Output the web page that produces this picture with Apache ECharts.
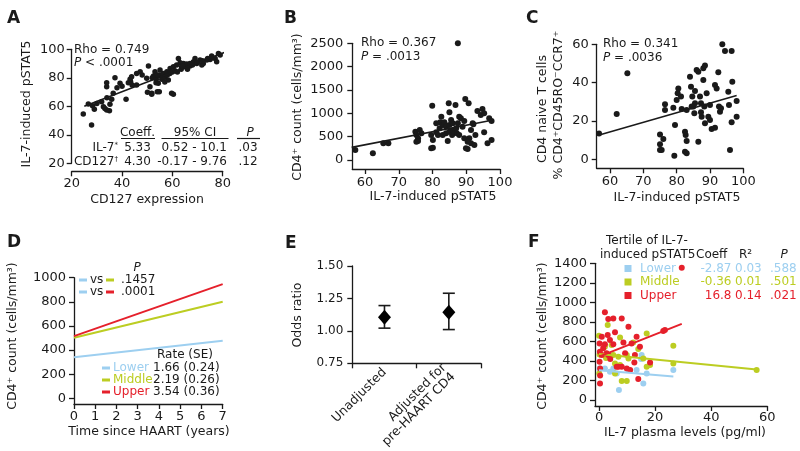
<!DOCTYPE html>
<html><head><meta charset="utf-8">
<script src="https://cdn.jsdelivr.net/npm/echarts@6/dist/echarts.min.js"></script>
<style>html,body{margin:0;padding:0;background:#fff}#c{width:800px;height:451px}</style>
</head><body><div id="c"></div>
<script>
// ---------------- DATA ----------------
const aPoints = [[24.6,54.6],[27.9,46.9],[26.6,61.6],[28.3,60.4],[31.9,63.2],[32.6,59.7],[33.2,58.5],[33.9,57.4],[35,56.9],[35.2,61.4],[35.9,64.9],[36.5,69.1],[33.9,73.7],[33.9,76.5],[37.2,80.1],[39.2,76.1],[41.6,64.9],[42.5,76.5],[43.4,77.3],[43.2,78.9],[43.8,80.8],[45.8,83.1],[47.2,84.3],[45.8,74.9],[50.5,88.3],[49.8,79.6],[50.1,69.8],[51.1,73.8],[51.8,69.1],[52.5,81.2],[53.1,84.3],[53.5,76.6],[54,70.2],[54.4,76.1],[55.1,81.9],[55.8,78.9],[55.1,85.4],[56.4,83.1],[57.1,80.3],[57.8,84.3],[58.4,78.4],[59.7,69.1],[59.1,86.6],[60.4,87.8],[61.7,89],[62.4,93.6],[63.1,90.6],[64.4,90.1],[63.7,87.8],[65,87.8],[65.7,89.7],[67,88.3],[68.4,91.3],[69,93.6],[69.7,90.1],[71,92.5],[71.7,89],[72.3,90.1],[73.7,92.5],[75,92.9],[75.6,95.3],[77,93.6],[77.6,91.3],[79,96],[80.3,97.6],[78.3,97.1],[60.4,68.4],[51.8,68.4],[54.8,70.2],[52,80],[53.6,79],[54.2,82],[56.2,80],[57,77],[58,82],[59,83],[60,84],[61,85],[62,84],[63.5,86],[64,88.5],[66,86],[67,90],[68,89],[70,91],[72,92],[74,93.5],[76,94],[30,62],[38,73],[40,74],[44,75],[48,82],[34,66],[29,58]];
const aFit = [[25,60],[50,77],[81,98]];
const aXTicks = [20,40,60,80];
const aYTicks = [20,40,60,80,100];

const bPoints = [[87.5,2500],[57.1,214],[62.3,142],[65.4,357],[66.9,357],[79.9,1164],[74.9,607],[75.2,535],[75.7,464],[76.2,642],[76.7,571],[75.2,392],[75.7,407],[79.6,535],[80.1,428],[79.6,250],[80.1,264],[81.1,592],[82.1,678],[82.6,928],[82.3,807],[83,750],[83.5,807],[84,714],[84.5,407],[84.8,1214],[85,1021],[85,750],[85.5,857],[86,785],[86.2,642],[86.8,1178],[87,678],[87.2,571],[87.5,785],[87.9,928],[88.4,892],[88.9,714],[89.4,835],[89.7,1307],[89.9,250],[90.4,235],[90.7,1214],[90.9,464],[91.4,357],[91.9,785],[92.1,764],[92.7,535],[92.4,321],[93.3,1050],[94.3,964],[94.8,1092],[95.3,1000],[95.3,592],[96.3,357],[96.8,892],[97.5,835],[97.5,428],[81.1,785],[81.6,535],[84,571],[83,535],[87.9,535],[89.4,464],[90.4,392],[85,607],[85.8,535],[91.4,642]];
const bFit = [[56,270],[98,855]];
const bXTicks = [60,70,80,90,100];
const bYTicks = [0,500,1000,1500,2000,2500];

const cPoints = [[56.7,13.5],[62,23.6],[65.2,44.9],[93.7,60],[94.5,56.5],[96.5,56.5],[75,13],[76,10.6],[75,7.8],[75.5,4.8],[75,4.8],[76.5,28.7],[76.5,25.7],[79.5,17.9],[79.3,1.9],[79,26.9],[80,31],[80.3,34.4],[80.5,37],[81.3,32.7],[81.5,26.3],[82.5,14.4],[82.7,12.7],[83,9.5],[82.5,4],[83,3.1],[84,43.1],[84.3,37.9],[84.7,32.7],[85,27.5],[85.3,24],[85.5,35.6],[86,46.6],[86.5,45.7],[86.5,9.2],[87,32.7],[87.3,29.2],[87.5,22.2],[88,47.5],[88.5,48.9],[88,41.4],[88.3,27.5],[88.5,18.8],[89,34.4],[89.5,22.2],[90,28.3],[90,20.5],[90.5,15.8],[91.5,16.5],[91.5,38.8],[92,37],[92.5,45.4],[92.7,27.5],[93,24.8],[93.3,26.6],[95.5,35.3],[95.7,28.3],[96,4.8],[96.5,19.3],[96.7,40.5],[98,30.4],[98,22.2],[85.5,29.2],[87.3,24.5],[84.5,27.5],[83,25.7]];
const cFit = [[56.5,12.5],[98,33.3]];
const cXTicks = [60,70,80,90,100];
const cYTicks = [0,20,40,60];

const dLower = [[0,340],[7,477]];
const dMiddle = [[0,502],[7,800]];
const dUpper = [[0,516],[7,947]];
const dXTicks = [0,1,2,3,4,5,6,7];
const dYTicks = [0,200,400,600,800,1000];

const eCats = ['Unadjusted', 'Adjusted for\npre-HAART CD4'];
const eOR = [1.104, 1.143];
const eLow = [1.021, 1.010];
const eHigh = [1.195, 1.290];
const eYTicks = [0.75,1.00,1.25,1.50];

const fLower = [[0.2,324],[2.1,324],[3.9,290],[6.3,273],[7.1,102],[10.5,307],[13.4,307],[15.2,461],[15.8,170],[17,273],[26.5,307],[5.1,324],[15,420]];
const fMiddle = [[0,659],[3.1,768],[17,682],[26.5,556],[26.5,375],[56.2,307],[5.1,461],[6.9,443],[9.9,461],[10.5,426],[5.7,375],[7.5,358],[14,522],[15.8,426],[17,341],[18.2,358],[8.1,194],[9.9,194],[5.7,273],[0.1,273],[0.2,467],[12.2,590],[4.5,563],[2.1,546],[7.5,640],[2.5,430]];
const fUpper = [[2.1,898],[3.3,829],[5.1,836],[8.1,836],[10.5,751],[3.1,665],[1,648],[0.2,580],[2.1,570],[3.9,614],[5.7,693],[5.1,570],[8.7,590],[13.4,648],[14.6,546],[0.3,495],[1,461],[2.7,478],[3.3,461],[9.3,478],[12.8,461],[0.2,392],[0.4,324],[6.3,341],[6.9,341],[8.1,341],[9.9,324],[12.6,385],[11.1,307],[18.2,385],[22.9,706],[23.5,717],[14,215],[0.35,170],[0.4,250],[11.6,580],[29.5,1355],[1.5,530],[4,420]];
const fLowerFit = [[0,305],[26.5,240]];
const fMiddleFit = [[0,472],[56.2,312]];
const fUpperFit = [[0,445],[29.5,780]];
const fXTicks = [0,20,40,60];
const fYTicks = [0,200,400,600,800,1000,1200,1400];

// ---------------- STYLE ----------------
const INK = '#1a1a1a';
const FONT = '"DejaVu Sans", Verdana, sans-serif';
const BLUE = '#9dcff0', LIME = '#bccd22', RED = '#e5202b';
const TICK_FS = 13;

function axis(o) {
  const a = {
    type: o.type || 'value',
    gridIndex: o.grid,
    min: o.min, max: o.max,
    offset: o.offset || 0,
    axisLine: {show: true, onZero: false, lineStyle: {color: INK, width: 1.3}},
    axisTick: {show: true, length: 5, inside: false, lineStyle: {color: INK, width: 1.3}},
    axisLabel: {color: INK, fontSize: o.fs || TICK_FS, fontFamily: FONT, margin: o.margin || 8},
    splitLine: {show: false}
  };
  if (o.ticks) { a.axisTick.customValues = o.ticks; a.axisLabel.customValues = o.ticks; }
  if (a.type === 'value') a.axisLabel.formatter = o.fmt || (v => String(v));
  if (o.data) a.data = o.data;
  if (o.rotate) { a.axisLabel.rotate = o.rotate; a.axisLabel.interval = 0; }
  return a;
}

function T(x, y, text, o) {
  o = o || {};
  const s = o.size || 12, fill = o.fill || INK;
  return {
    type: 'text', x: x, y: y, rotation: o.rot || 0, silent: true, z: 10,
    style: {
      text: text, fill: fill, fontSize: s, fontFamily: FONT,
      fontWeight: o.bold ? 'bold' : 'normal', fontStyle: o.italic ? 'italic' : 'normal',
      textAlign: o.align || 'left', align: o.align || 'left',
      textVerticalAlign: o.va || 'middle', verticalAlign: o.va || 'middle',
      rich: {
        i: {fontStyle: 'italic', fontSize: s, fontFamily: FONT, fill: fill},
        sup: {fontSize: Math.round(s * 0.62), fontFamily: FONT, fill: fill, verticalAlign: 'top'}
      }
    }
  };
}
function L(x1, y1, x2, y2, color, w) {
  return {type: 'line', silent: true, z: 10, shape: {x1: x1, y1: y1, x2: x2, y2: y2}, style: {stroke: color || INK, lineWidth: w || 1.2}};
}
function SQ(cx, cy, color) {
  return {type: 'rect', silent: true, z: 10, shape: {x: cx - 3.5, y: cy - 3.5, width: 7, height: 7}, style: {fill: color}};
}
const R90 = Math.PI / 2;
const TITLE = 12.5;

const graphics = [
  T(7, 10, 'A', {bold: true, size: 17, va: 'top'}),
  T(284, 10, 'B', {bold: true, size: 17, va: 'top'}),
  T(526, 10, 'C', {bold: true, size: 17, va: 'top'}),
  T(7, 234, 'D', {bold: true, size: 17, va: 'top'}),
  T(285, 235, 'E', {bold: true, size: 17, va: 'top'}),
  T(528, 234, 'F', {bold: true, size: 17, va: 'top'}),
  T(27, 104, 'IL-7-induced pSTAT5', {rot: R90, align: 'center', size: TITLE}),
  T(147, 200, 'CD127 expression', {align: 'center', size: TITLE}),
  T(74, 50, 'Rho = 0.749'),
  T(74, 63, '{i|P} < .0001'),
  T(137.5, 133, 'Coeff.', {align: 'center'}),
  T(195, 133, '95% CI', {align: 'center'}),
  T(250, 133, '{i|P}', {align: 'center'}),
  L(121, 138.5, 155, 138.5), L(161.5, 138.5, 228.5, 138.5), L(237, 138.5, 260, 138.5),
  T(118, 148, 'IL-7{sup|*}', {align: 'right'}),
  T(137.5, 148, '5.33', {align: 'center'}),
  T(227, 148, '0.52 - 10.1', {align: 'right'}),
  T(238.5, 148, '.03'),
  T(118, 162, 'CD127{sup|†}', {align: 'right'}),
  T(137.5, 162, '4.30', {align: 'center'}),
  T(227, 162, '-0.17 - 9.76', {align: 'right'}),
  T(238.5, 162, '.12'),
  T(298, 107, 'CD4⁺ count (cells/mm³)', {rot: R90, align: 'center', size: TITLE}),
  T(433, 197, 'IL-7-induced pSTAT5', {align: 'center', size: TITLE}),
  T(361, 43, 'Rho = 0.367'),
  T(361, 57, '{i|P} = .0013'),
  T(543, 109, 'CD4 naive T cells', {rot: R90, align: 'center', size: TITLE}),
  T(558.5, 105, '% CD4⁺CD45RO⁻CCR7⁺', {rot: R90, align: 'center', size: TITLE}),
  T(677, 198, 'IL-7-induced pSTAT5', {align: 'center', size: TITLE}),
  T(603, 44, 'Rho = 0.341'),
  T(603, 58, '{i|P} = .0036'),
  T(13, 336, 'CD4⁺ count (cells/mm³)', {rot: R90, align: 'center', size: TITLE}),
  T(149, 432, 'Time since HAART (years)', {align: 'center', size: TITLE}),
  T(137, 268, '{i|P}', {align: 'center'}),
  L(79, 280, 87, 280, BLUE, 3), T(90, 280, 'vs'), L(106, 280, 114, 280, LIME, 3), T(121, 280, '.1457'),
  L(79, 292, 87, 292, BLUE, 3), T(90, 292, 'vs'), L(106, 292, 114, 292, RED, 3), T(121, 292, '.0001'),
  T(157, 355, 'Rate (SE)'),
  L(102, 368, 110, 368, BLUE, 3), T(113, 368, 'Lower', {fill: BLUE}), T(153, 368, '1.66 (0.24)'),
  L(102, 380, 110, 380, LIME, 3), T(113, 380, 'Middle', {fill: LIME}), T(153, 380, '2.19 (0.26)'),
  L(102, 392, 110, 392, RED, 3), T(113, 392, 'Upper', {fill: RED}), T(153, 392, '3.54 (0.36)'),
  T(298, 315, 'Odds ratio', {rot: R90, align: 'center', size: TITLE}),
  T(543, 336, 'CD4⁺ count (cells/mm³)', {rot: R90, align: 'center', size: TITLE}),
  T(685, 433, 'IL-7 plasma levels (pg/ml)', {align: 'center', size: TITLE}),
  T(606, 241, 'Tertile of IL-7-'),
  T(600, 254.5, 'induced pSTAT5'),
  T(696, 254.5, 'Coeff'),
  T(739, 254.5, 'R²'),
  T(784, 254.5, '{i|P}', {align: 'center'}),
  SQ(628, 268.5, BLUE), T(640, 268.5, 'Lower', {fill: BLUE}), T(731.5, 268.5, '-2.87', {align: 'right', fill: BLUE}), T(735, 268.5, '0.03', {fill: BLUE}), T(770, 268.5, '.588', {fill: BLUE}),
  SQ(628, 282, LIME), T(640, 282, 'Middle', {fill: LIME}), T(731.5, 282, '-0.36', {align: 'right', fill: LIME}), T(735, 282, '0.01', {fill: LIME}), T(770, 282, '.501', {fill: LIME}),
  SQ(628, 295.5, RED), T(640, 295.5, 'Upper', {fill: RED}), T(731.5, 295.5, '16.8', {align: 'right', fill: RED}), T(735, 295.5, '0.14', {fill: RED}), T(770, 295.5, '.021', {fill: RED})
];

const dot = (idx, data, color, size) => ({type: 'scatter', xAxisIndex: idx, yAxisIndex: idx, data: data, symbolSize: size || 6, itemStyle: {color: color || INK, opacity: 1}, z: 3});
const fit = (idx, data, color, w) => ({type: 'line', xAxisIndex: idx, yAxisIndex: idx, data: data, showSymbol: false, symbol: 'none', lineStyle: {color: color || INK, width: w || 1.6}, z: 4});

const option = {
  animation: false,
  backgroundColor: '#fff',
  textStyle: {fontFamily: FONT},
  grid: [
    {left: 71.7, top: 49.3, width: 151, height: 114},
    {left: 352.3, top: 43.3, width: 147.7, height: 125.7},
    {left: 596.7, top: 44.3, width: 146.6, height: 124},
    {left: 74, top: 277.7, width: 148.7, height: 126.3},
    {left: 352.3, top: 266, width: 128.7, height: 97.3},
    {left: 595, top: 263.3, width: 172.3, height: 142.7}
  ],
  xAxis: [
    axis({grid: 0, min: 20, max: 80, ticks: aXTicks, offset: 8, margin: 6}),
    axis({grid: 1, min: 56.2, max: 100, ticks: bXTicks, margin: 7}),
    axis({grid: 2, min: 56, max: 100, ticks: cXTicks, margin: 7}),
    axis({grid: 3, min: 0, max: 7, ticks: dXTicks, margin: 6}),
    (function () { const a = axis({grid: 4, type: 'category', data: eCats, rotate: 45, fs: 12.5, margin: 7}); a.boundaryGap = true; a.axisTick.alignWithLabel = false; return a; })(),
    axis({grid: 5, min: -1.43, max: 60, ticks: fXTicks, margin: 5})
  ],
  yAxis: [
    axis({grid: 0, min: 20, max: 100, ticks: aYTicks, margin: 7}),
    axis({grid: 1, min: -193, max: 2500, ticks: bYTicks, margin: 9}),
    axis({grid: 2, min: -4.7, max: 60, ticks: cYTicks, margin: 8}),
    axis({grid: 3, min: -47, max: 1000, ticks: dYTicks, margin: 8}),
    axis({grid: 4, min: 0.75, max: 1.5, ticks: eYTicks, fs: 12, margin: 9, fmt: v => v.toFixed(2)}),
    axis({grid: 5, min: -61, max: 1400, ticks: fYTicks, margin: 8})
  ],
  series: [
    dot(0, aPoints, INK, 5.5), fit(0, aFit),
    dot(1, bPoints, INK, 6), fit(1, bFit),
    dot(2, cPoints, INK, 6), fit(2, cFit),
    fit(3, dLower, BLUE, 2), fit(3, dMiddle, LIME, 2), fit(3, dUpper, RED, 2),
    {
      type: 'custom', xAxisIndex: 4, yAxisIndex: 4,
      data: eCats.map((c, i) => [i, eLow[i], eHigh[i]]),
      encode: {x: 0, y: [1, 2]},
      renderItem: function (params, api) {
        const i = api.value(0);
        const lo = api.coord([i, api.value(1)]);
        const hi = api.coord([i, api.value(2)]);
        const w = 6, st = {stroke: INK, lineWidth: 1.6};
        return {type: 'group', children: [
          {type: 'line', shape: {x1: lo[0], y1: lo[1], x2: hi[0], y2: hi[1]}, style: st},
          {type: 'line', shape: {x1: lo[0] - w, y1: lo[1], x2: lo[0] + w, y2: lo[1]}, style: st},
          {type: 'line', shape: {x1: hi[0] - w, y1: hi[1], x2: hi[0] + w, y2: hi[1]}, style: st}
        ]};
      }
    },
    {type: 'scatter', xAxisIndex: 4, yAxisIndex: 4, data: eCats.map((c, i) => [i, eOR[i]]), symbol: 'diamond', symbolSize: [13, 15], itemStyle: {color: '#000', opacity: 1}, z: 5},
    dot(5, fLower, BLUE, 6), dot(5, fMiddle, LIME, 6), dot(5, fUpper, RED, 6),
    fit(5, fLowerFit, BLUE, 2), fit(5, fMiddleFit, LIME, 2), fit(5, fUpperFit, RED, 2)
  ],
  graphic: graphics
};

const chart = echarts.init(document.getElementById('c'), null, {renderer: 'canvas'});
chart.setOption(option);
</script>
</body></html>
